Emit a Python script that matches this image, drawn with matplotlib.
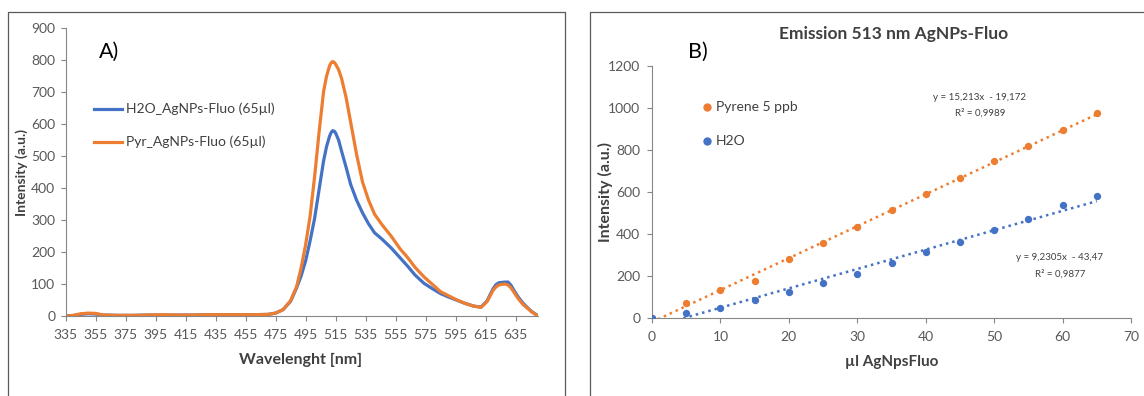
import matplotlib
matplotlib.use("Agg")
import matplotlib.pyplot as plt
from matplotlib.lines import Line2D
import numpy as np

plt.rcParams['font.family'] = ['Lato', 'DejaVu Sans']
plt.rcParams['font.size'] = 9.5

# Fluoreszenzspektren (65 µl AgNPs-Fluo)
wellenlaenge = [335, 340, 345, 350, 355, 360, 370, 380, 390, 400, 410, 420, 430, 440, 450,
                460, 470, 475, 480, 485, 489, 492, 495, 498, 501, 504, 507, 509, 511, 512,
                513, 514, 515, 517, 519, 522, 525, 529, 533, 537, 541, 546, 552, 558, 563,
                568, 574, 580, 585, 590, 596, 601, 607, 612, 616, 620, 622, 624, 626, 628,
                630, 632, 634, 637, 640, 643, 646, 649]
h2o_spektrum = [0, 1, 5, 7, 6, 3, 2, 2, 3, 3, 3, 3, 4, 4, 4,
                4, 5, 9, 20, 46, 88, 125, 172, 235, 305, 395, 485, 530, 562, 573,
                579, 578, 572, 550, 515, 465, 412, 362, 322, 288, 260, 240, 213, 182, 156,
                128, 102, 84, 70, 60, 49, 40, 31, 28, 47, 85, 98, 104, 105, 106,
                106, 96, 80, 58, 40, 26, 13, 4]
pyr_spektrum = [0, 2, 7, 9, 8, 3, 2, 2, 3, 4, 3, 3, 4, 4, 4,
                4, 5, 9, 20, 48, 92, 150, 222, 312, 435, 575, 702, 750, 782, 791,
                795, 793, 787, 770, 742, 683, 607, 505, 418, 362, 318, 285, 250, 210, 183,
                152, 122, 97, 76, 64, 50, 40, 31, 27, 45, 80, 91, 97, 99, 100,
                97, 88, 74, 53, 36, 24, 12, 3]

# Emission bei 513 nm gegen Volumen AgNPs-Fluo
volumen = [0, 5, 10, 15, 20, 25, 30, 35, 40, 45, 50, 55, 60, 65]
pyren_513 = [0, 70, 133, 178, 281, 356, 434, 512, 591, 666, 747, 818, 895, 976]
h2o_513 = [0, 24, 49, 87, 124, 165, 210, 261, 315, 361, 418, 470, 537, 583]

# Trendlinien (linear)
pyren_fit = (15.213, -19.172, 0.9989)
h2o_fit = (9.2305, -43.47, 0.9877)

blau = '#4472C4'
orange = '#ED7D31'
achse = '#868686'
text_farbe = '#404040'
tick_farbe = '#595959'

W, H = 1144, 396
fig = plt.figure(figsize=(W / 100, H / 100), dpi=100)


def px(x, y):
    return x / W, 1 - y / H


def box(x0, y0, x1, y1):
    # Achsen über Pixelkoordinaten anlegen
    l, b = px(x0, y1)
    r, t = px(x1, y0)
    return fig.add_axes([l, b, r - l, t - b])


def style(ax):
    for s in ['top', 'right']:
        ax.spines[s].set_visible(False)
    for s in ['left', 'bottom']:
        ax.spines[s].set_color(achse)
        ax.spines[s].set_linewidth(0.8)
    ax.tick_params(colors=achse, labelcolor=tick_farbe, length=3.5, width=0.8, labelsize=10)


def rahmen(x0, y0, x1, y1):
    xs = [x0, x0, x1, x1]
    ys = [y1, y0, y0, y1]
    fig.add_artist(Line2D([x / W for x in xs], [1 - y / H for y in ys],
                          color='#5a5a5a', lw=0.9, transform=fig.transFigure))


rahmen(7.5, 12, 565, 400)
rahmen(589.5, 11.5, 1150, 400)

# --- A) Spektren ---
ax1 = box(65.7, 28, 538, 316)
ax1.plot(wellenlaenge, h2o_spektrum, color=blau, lw=2.3, label='H2O_AgNPs-Fluo (65µl)')
ax1.plot(wellenlaenge, pyr_spektrum, color=orange, lw=2.3, label='Pyr_AgNPs-Fluo (65µl)')
ax1.set_xlim(335, 650)
ax1.set_ylim(0, 900)
ax1.set_xticks(np.arange(335, 640, 20))
ax1.set_yticks(np.arange(0, 901, 100))
style(ax1)
ax1.tick_params(axis='x', pad=6)
ax1.tick_params(axis='y', pad=4)

fig.text(*px(99, 52), 'A)', fontsize=15.5, ha='left', va='center', color='black')
for yy, farbe, lab in [(109, blau, 'H2O_AgNPs-Fluo (65µl)'), (142, orange, 'Pyr_AgNPs-Fluo (65µl)')]:
    fig.add_artist(Line2D([94 / W, 122 / W], [1 - yy / H] * 2, color=farbe, lw=2.3,
                          transform=fig.transFigure))
    fig.text(*px(126.5, yy), lab, fontsize=10, ha='left', va='center', color=text_farbe)
fig.text(*px(22, 173), 'Intensity (a.u.)', rotation=90, fontsize=10, fontweight='bold',
         ha='center', va='center', color=text_farbe)
fig.text(*px(301, 360), 'Wavelenght [nm]', fontsize=11.5, fontweight='bold',
         ha='center', va='center', color=text_farbe)

# --- B) Emission 513 nm ---
ax2 = box(652, 66, 1131, 318)
xx = np.array([0, 65])
for fit, farbe in [(pyren_fit, orange), (h2o_fit, blau)]:
    ax2.plot(xx, fit[0] * xx + fit[1], color=farbe, lw=1.8, ls=(0, (1, 1.6)))
ax2.scatter(volumen, pyren_513, s=28, color=orange, zorder=3, linewidths=0)
ax2.scatter(volumen, h2o_513, s=28, color=blau, zorder=3, linewidths=0)
ax2.set_xlim(0, 70)
ax2.set_ylim(0, 1200)
ax2.set_xticks(np.arange(0, 71, 10))
ax2.set_yticks(np.arange(0, 1201, 200))
style(ax2)
ax2.tick_params(axis='x', pad=6)
ax2.tick_params(axis='y', pad=5)

fig.text(*px(894, 34), 'Emission 513 nm AgNPs-Fluo', fontsize=12.5, fontweight='bold',
         ha='center', va='center', color=text_farbe)
fig.text(*px(688, 52), 'B)', fontsize=15.5, ha='left', va='center', color='black')
for yy, farbe, lab in [(107, orange, 'Pyrene 5 ppb'), (141, blau, 'H2O')]:
    fig.add_artist(Line2D([707 / W], [1 - yy / H], marker='o', ms=5, color=farbe, mec=farbe,
                          transform=fig.transFigure))
    fig.text(*px(716, yy), lab, fontsize=10, ha='left', va='center', color=text_farbe)

for (m, b, r2), xc, yc in [(pyren_fit, 980, 97), (h2o_fit, 1060, 258)]:
    eq = 'y = %sx  - %s' % (('%g' % m).replace('.', ','), ('%g' % -b).replace('.', ','))
    fig.text(*px(xc, yc), eq, fontsize=7, ha='center', va='center', color=text_farbe)
    fig.text(*px(xc, yc + 16), 'R² = %s' % ('%g' % r2).replace('.', ','), fontsize=7,
             ha='center', va='center', color=text_farbe)

fig.text(*px(605, 192), 'Intensity (a.u.)', rotation=90, fontsize=11.5, fontweight='bold',
         ha='center', va='center', color=text_farbe)
fig.text(*px(892, 362), 'µl AgNpsFluo', fontsize=11, fontweight='bold',
         ha='center', va='center', color=text_farbe)

fig.savefig('out.png', dpi=100)
